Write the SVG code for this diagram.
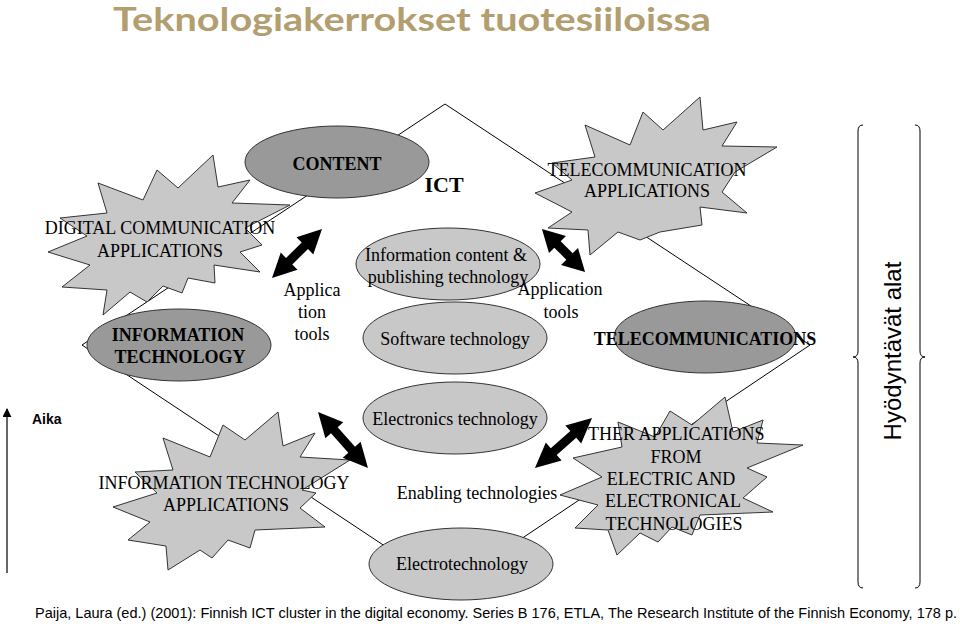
<svg xmlns="http://www.w3.org/2000/svg" width="960" height="624" viewBox="0 0 960 624">
<style>
.t{font-family:"Liberation Serif","Times New Roman",serif;font-size:18px;fill:#000;text-anchor:middle}
.b{font-weight:bold}
.s{font-family:"Liberation Sans",Arial,sans-serif;fill:#000}
.burst{fill:#c8c8c8;stroke:#333;stroke-width:1}
.light{fill:#c8c8c8;stroke:#333;stroke-width:1}
.dark{fill:#999;stroke:#333;stroke-width:1}
.edge{fill:none;stroke:#000;stroke-width:1}
.arr{fill:#000}
</style>
<defs>
<marker id="ah" viewBox="0 0 10 10" refX="9" refY="5" markerWidth="9" markerHeight="9" markerUnits="userSpaceOnUse" orient="auto"><path d="M0,0 L10,5 L0,10 Z" fill="#000"/></marker>
</defs>
<rect width="960" height="624" fill="#fff"/>
<text x="113" y="31" style="font-family:Lato,'Open Sans',sans-serif;font-weight:bold;font-size:32px;fill:#b39e6f" textLength="598" lengthAdjust="spacingAndGlyphs">Teknologiakerrokset tuotesiiloissa</text>

<g id="connectors">
<polygon class="edge" points="445,104 810,345 448,588 82,345"/>
</g>

<g id="digital-communication-applications">
<polygon class="burst" points="213,155 218,187 250,180 232,203 290,205 245,228 262,245 240,252 260,272 214,265 215,283 188,278 182,293 163,286 147,302 130,292 103,315 107,290 62,287 90,265 48,252 87,236 60,218 107,213 98,183 143,200 157,170 178,188"/>
<text class="t" x="160" y="234">DIGITAL COMMUNICATION</text>
<text class="t" x="160" y="257">APPLICATIONS</text>
</g>

<g id="telecommunication-applications">
<polygon class="burst" points="700,97 663,130 643,112 630,145 585,125 595,157 552,163 572,180 535,193 572,212 548,228 588,230 590,255 618,232 640,240 660,232 702,225 700,207 747,213 722,192 735,172 777,147 722,146 737,122 703,130"/>
<text class="t" x="647" y="176">TELECOMMUNICATION</text>
<text class="t" x="647" y="197">APPLICATIONS</text>
</g>

<g id="information-technology-applications">
<polygon class="burst" points="278,412 245,440 223,425 210,457 163,438 173,470 135,472 157,493 113,507 150,522 128,540 166,546 168,570 200,550 212,558 228,540 250,548 255,530 325,527 300,508 316,493 302,490 350,460 300,457 315,433 283,446"/>
<text class="t" x="224" y="489">INFORMATION TECHNOLOGY</text>
<text class="t" x="226" y="511">APPLICATIONS</text>
</g>

<g id="other-applications">
<polygon class="burst" points="725,397 692,425 670,411 655,437 618,422 622,447 573,458 602,477 560,495 598,505 575,528 608,530 617,555 640,533 658,542 672,527 692,535 700,515 773,512 743,498 767,477 747,468 803,445 757,443 763,420 733,432"/>
<text class="t" x="588" y="440" style="text-anchor:start">THER APPLICATIONS</text>
<text class="t" x="676" y="463">FROM</text>
<text class="t" x="671" y="485">ELECTRIC AND</text>
<text class="t" x="673" y="507">ELECTRONICAL</text>
<text class="t" x="674" y="530">TECHNOLOGIES</text>
</g>

<g id="content">
<ellipse class="dark" cx="337" cy="162" rx="92" ry="36"/>
<text class="t b" x="337" y="170">CONTENT</text>
</g>

<g id="ict">
<text class="t b" x="444" y="192" style="font-size:22px">ICT</text>
</g>

<g id="information-technology">
<ellipse class="dark" cx="179" cy="345" rx="92" ry="36"/>
<text class="t b" x="178" y="341">INFORMATION</text>
<text class="t b" x="180" y="363">TECHNOLOGY</text>
</g>

<g id="telecommunications">
<ellipse class="dark" cx="705" cy="337" rx="91" ry="36"/>
<text class="t b" x="705" y="345">TELECOMMUNICATIONS</text>
</g>

<g id="information-content">
<ellipse class="light" cx="448" cy="264" rx="92" ry="36"/>
<text class="t" x="446" y="261">Information content &amp;</text>
<text class="t" x="448" y="283">publishing technology</text>
</g>

<g id="software-technology">
<ellipse class="light" cx="455" cy="338" rx="92" ry="36"/>
<text class="t" x="455" y="345">Software technology</text>
</g>

<g id="electronics-technology">
<ellipse class="light" cx="455" cy="418" rx="92" ry="36"/>
<text class="t" x="455" y="425">Electronics technology</text>
</g>

<g id="electrotechnology">
<ellipse class="light" cx="461" cy="564" rx="92" ry="36"/>
<text class="t" x="462" y="570">Electrotechnology</text>
</g>

<g id="enabling-technologies">
<text class="t" x="477" y="499">Enabling technologies</text>
</g>

<g id="application-tools-left">
<text class="t" x="312" y="296">Applica</text>
<text class="t" x="312" y="318">tion</text>
<text class="t" x="312" y="340">tools</text>
</g>

<g id="application-tools-right">
<text class="t" x="560" y="295">Application</text>
<text class="t" x="561" y="318">tools</text>
</g>

<g id="arrows">
<path class="arr" transform="translate(297,253.5) rotate(-44.4)" d="M-35,0 L-11,-12 L-11,-4.5 L11,-4.5 L11,-12 L35,0 L11,12 L11,4.5 L-11,4.5 L-11,12 Z"/>
<path class="arr" transform="translate(563.5,250.5) rotate(45)" d="M-30.5,0 L-8.5,-12 L-8.5,-4.5 L8.5,-4.5 L8.5,-12 L30.5,0 L8.5,12 L8.5,4.5 L-8.5,4.5 L-8.5,12 Z"/>
<path class="arr" transform="translate(343,440) rotate(48.2)" d="M-37.5,0 L-13,-12 L-13,-4.5 L13,-4.5 L13,-12 L37.5,0 L13,12 L13,4.5 L-13,4.5 L-13,12 Z"/>
<path class="arr" transform="translate(563.5,443) rotate(-41.3)" d="M-38,0 L-13,-12 L-13,-4.5 L13,-4.5 L13,-12 L38,0 L13,12 L13,4.5 L-13,4.5 L-13,12 Z"/>
</g>

<g id="aika">
<line x1="7" y1="573" x2="7" y2="409" stroke="#000" stroke-width="1.2" marker-end="url(#ah)"/>
<text class="s" x="32" y="424" style="font-size:14px;font-weight:bold">Aika</text>
</g>

<g id="hyodyntavat-alat">
<path class="edge" d="M863,125 Q858,125 858,131 L858,351 Q858,357 853,357 Q858,357 858,363 L858,582 Q858,588 863,588"/>
<path class="edge" d="M915,125 Q920,125 920,131 L920,351 Q920,357 925,357 Q920,357 920,363 L920,582 Q920,588 915,588"/>
<text class="s" transform="translate(901,351) rotate(-90)" style="font-size:24px;text-anchor:middle">Hyödyntävät alat</text>
</g>

<text class="s" x="35" y="618" style="font-size:14.5px" textLength="922" lengthAdjust="spacingAndGlyphs">Paija, Laura (ed.) (2001): Finnish ICT cluster in the digital economy. Series B 176, ETLA, The Research Institute of the Finnish Economy, 178 p.</text>
</svg>
